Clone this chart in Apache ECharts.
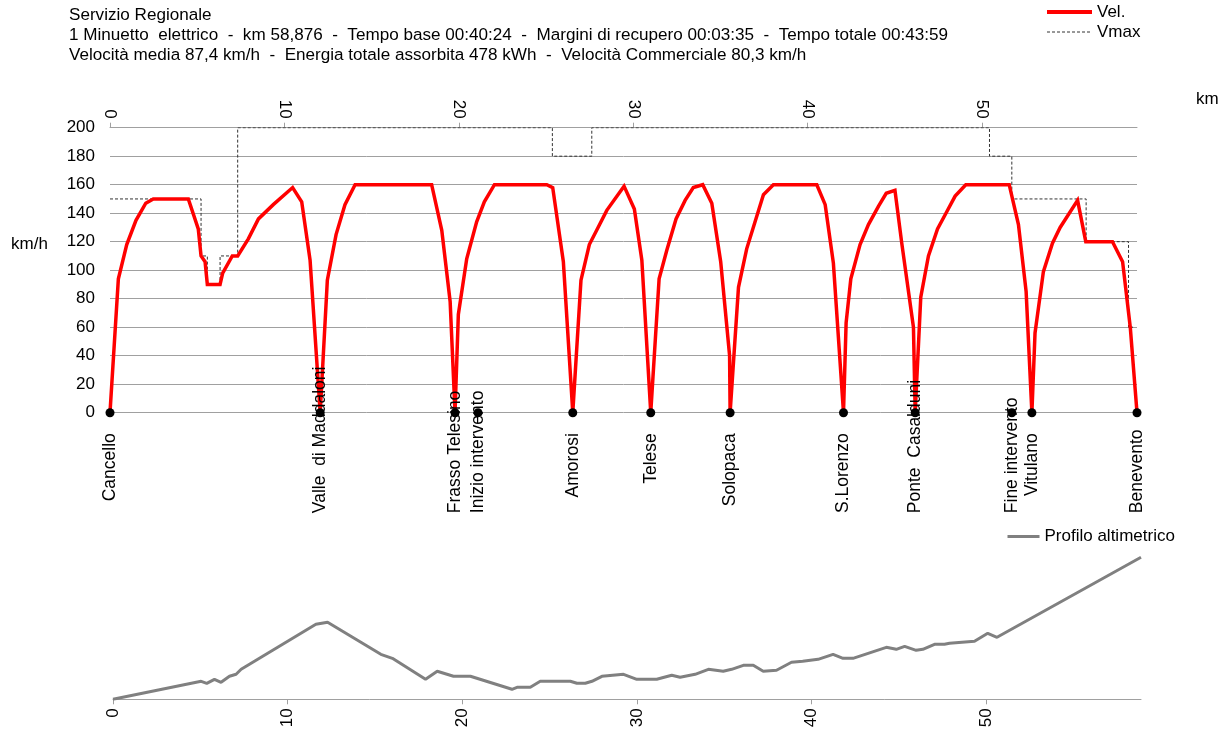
<!DOCTYPE html>
<html>
<head>
<meta charset="utf-8">
<script src="https://cdn.jsdelivr.net/npm/echarts@6/dist/echarts.min.js"></script>
<style>
html,body{margin:0;padding:0;background:#fff;}
#c{width:1228px;height:730px;}
</style>
</head>
<body>
<div id="c"></div>
<script>
// ---- data ----
const headerLines = [
  'Servizio Regionale',
  '1 Minuetto  elettrico  -  km 58,876  -  Tempo base 00:40:24  -  Margini di recupero 00:03:35  -  Tempo totale 00:43:59',
  'Velocità media 87,4 km/h  -  Energia totale assorbita 478 kWh  -  Velocità Commerciale 80,3 km/h'
];
const kmTotale = 58.876;
const kmTicks = [0, 10, 20, 30, 40, 50];
const velTicksMax = 200;

const velKm = [0,0.48,0.96,1.49,2.05,2.48,4.49,5.06,5.22,5.45,5.58,6.31,6.46,7.01,7.32,7.93,8.51,9.36,10.47,10.99,11.47,12.05,12.46,12.96,13.47,14.05,18.44,19.02,19.5,19.78,19.97,20.45,21.02,21.46,22.04,25.04,25.38,25.99,26.53,27.0,27.48,27.9,28.48,29.47,30.06,30.49,31.0,31.48,31.92,32.45,32.97,33.44,33.98,34.5,35.01,35.52,35.55,36.03,36.5,37.46,38.03,40.52,41.0,41.47,42.05,42.2,42.47,43.0,43.48,44.06,44.5,45.0,45.39,46.06,46.16,46.48,46.92,47.44,47.97,48.45,49.06,51.55,52.08,52.52,52.85,53.03,53.51,54.03,54.47,55.47,55.94,57.47,58.05,58.49,58.6,58.876];
const velVal = [0,94,118,135,147,150,150,129,110,106,90,90,98,110,110,122,136,146,158,148,107,0,93,125,146,160,160,128,78,0,69,108,134,148,160,160,158,106,0,93,118,128,142,159,143,107,0,94,114,136,149,158,160,147,106,40,0,88,115,153,160,160,146,105,0,63,94,118,132,145,154,156,119,60,0,81,110,129,141,152,160,160,132,85,0,56,99,119,130,149,120,120,106,60,60,0];

const vmaxKm = [0,5.22,5.22,5.58,5.58,6.31,6.31,7.32,7.32,25.36,25.36,27.62,27.62,50.42,50.42,51.7,51.7,55.96,55.96,58.39,58.39,58.65];
const vmaxVal = [150,150,110,110,90,90,110,110,200,200,180,180,200,200,180,180,150,150,120,120,60,60];

const stazioni = ['Cancello','Valle  di Maddaloni','Frasso Telesino','Inizio intervento','Amorosi','Telese','Solopaca','S.Lorenzo','Ponte  Casalduni','Fine intervento','Vitulano','Benevento'];
const kmStazioni = [0,12.05,19.78,21.1,26.53,31.0,35.55,42.05,46.16,51.7,52.85,58.876];

const altKm = [0,5.05,5.37,5.81,6.19,6.67,7.05,7.34,11.62,12.29,15.34,16.0,17.9,18.57,19.5,20.47,22.85,23.14,23.9,24.47,26.19,26.57,27.05,27.43,28.0,29.24,30.0,31.14,32.0,32.48,33.34,34.1,34.95,35.43,36.1,36.67,37.24,38.0,38.86,39.5,40.38,41.24,41.81,42.38,44.29,44.86,45.34,46.0,46.38,47.05,47.62,47.91,49.34,50.1,50.63,58.876];
const altVal = [0,18,16,20,17,23,25,30,75,77,45,41,20,28,23,23,10,12,12,18,18,16,16,18,23,25,20,20,24,22,25,30,28,30,34,34,28,29,37,38,40,45,41,41,52,50,53,49,50,55,55,56,58,66,62,142];

// ---- chart ----
const FONT = "'Liberation Sans', Arial, sans-serif";
const chart = echarts.init(document.getElementById('c'), null, {renderer: 'canvas'});

const ctx = document.createElement('canvas').getContext('2d');
const LBL_SIZE = 17.5;
ctx.font = LBL_SIZE + 'px ' + FONT;

// label placement: text starts ~16px under the dot, pushed up if it would pass the bottom limit
const stazData = stazioni.map((n, i) => {
  const w = ctx.measureText(n).width;
  const d = Math.min(16, 96 - w);
  return {name: n, value: [kmStazioni[i], 0], label: {distance: d}};
});

const zip = (a, b) => a.map((v, i) => [v, b[i]]);

const option = {
  animation: false,
  backgroundColor: '#fff',
  textStyle: {fontFamily: FONT},
  title: {
    text: headerLines.join('\n'),
    left: 69, top: 5, padding: 0,
    textStyle: {fontSize: 17.1, fontWeight: 'normal', color: '#000', lineHeight: 20, fontFamily: FONT}
  },
  legend: [
    {
      data: [
        {name: 'Vel.', lineStyle: {width: 4}},
        {name: 'Vmax', lineStyle: {width: 1}}
      ],
      orient: 'vertical', left: 1045, top: 2, padding: 0,
      itemWidth: 45, itemHeight: 12, itemGap: 0,
      itemStyle: {opacity: 0, borderWidth: 0},
      textStyle: {fontSize: 17, color: '#000', fontFamily: FONT, lineHeight: 20}
    },
    {
      data: [{name: 'Profilo altimetrico', lineStyle: {width: 3}}],
      orient: 'horizontal', left: 1006, top: 528, padding: 0,
      itemWidth: 32, itemHeight: 12,
      itemStyle: {opacity: 0, borderWidth: 0},
      textStyle: {fontSize: 17, color: '#000', fontFamily: FONT}
    }
  ],
  graphic: [
    {type: 'text', left: 11, top: 236, style: {text: 'km/h', fontSize: 17, fill: '#000', fontFamily: FONT}},
    {type: 'text', left: 1196, top: 91, style: {text: 'km', fontSize: 17, fill: '#000', fontFamily: FONT}}
  ],
  grid: [
    {left: 110, top: 127.7, width: 1027, height: 285, containLabel: false, outerBoundsMode: 'none'},
    {left: 113, top: 529.3, width: 1028, height: 170, containLabel: false, outerBoundsMode: 'none'}
  ],
  xAxis: [
    {
      type: 'value', gridIndex: 0, position: 'top', min: 0, max: kmTotale, interval: 10,
      axisLine: {show: true, onZero: false, lineStyle: {color: '#a0a0a0', width: 1}},
      axisTick: {show: true, length: 5, customValues: kmTicks, lineStyle: {color: '#a0a0a0'}},
      axisLabel: {rotate: 90, margin: 9, fontSize: 17, color: '#000', customValues: kmTicks, fontFamily: FONT},
      splitLine: {show: false}
    },
    {
      type: 'value', gridIndex: 1, position: 'bottom', min: 0, max: kmTotale, interval: 10,
      axisLine: {show: true, onZero: false, lineStyle: {color: '#a0a0a0', width: 1}},
      axisTick: {show: true, length: 5, customValues: kmTicks, lineStyle: {color: '#a0a0a0'}},
      axisLabel: {rotate: 90, margin: 9, fontSize: 17, color: '#000', customValues: kmTicks, fontFamily: FONT},
      splitLine: {show: false}
    }
  ],
  yAxis: [
    {
      type: 'value', gridIndex: 0, min: 0, max: velTicksMax, interval: 20,
      axisLine: {show: false}, axisTick: {show: false},
      axisLabel: {fontSize: 17, color: '#000', margin: 15, fontFamily: FONT},
      splitLine: {show: true, lineStyle: {color: '#a0a0a0', width: 1}}
    },
    {
      type: 'value', gridIndex: 1, min: 0, max: 170, show: false,
      splitLine: {show: false}
    }
  ],
  series: [
    {
      name: 'Vmax', type: 'line', xAxisIndex: 0, yAxisIndex: 0, data: zip(vmaxKm, vmaxVal),
      symbol: 'none', z: 2, color: '#333',
      lineStyle: {color: '#333', width: 1, type: [3, 2]}
    },
    {
      name: 'Vel.', type: 'line', xAxisIndex: 0, yAxisIndex: 0, data: zip(velKm, velVal),
      symbol: 'none', z: 3, color: '#ff0000',
      lineStyle: {color: '#ff0000', width: 3.5, join: 'miter'}
    },
    {
      name: 'Stazioni', type: 'scatter', xAxisIndex: 0, yAxisIndex: 0, data: stazData,
      symbol: 'circle', symbolSize: 9, z: 5, itemStyle: {color: '#000', opacity: 1},
      label: {
        show: true, position: 'bottom', formatter: '{b}', rotate: 90,
        align: 'right', verticalAlign: 'middle',
        fontSize: LBL_SIZE, color: '#000', fontFamily: FONT
      },
      labelLayout: {hideOverlap: false}
    },
    {
      name: 'Profilo altimetrico', type: 'line', xAxisIndex: 1, yAxisIndex: 1, data: zip(altKm, altVal),
      symbol: 'none', z: 2, color: '#808080',
      lineStyle: {color: '#808080', width: 3}
    }
  ]
};
chart.setOption(option);
</script>
</body>
</html>
